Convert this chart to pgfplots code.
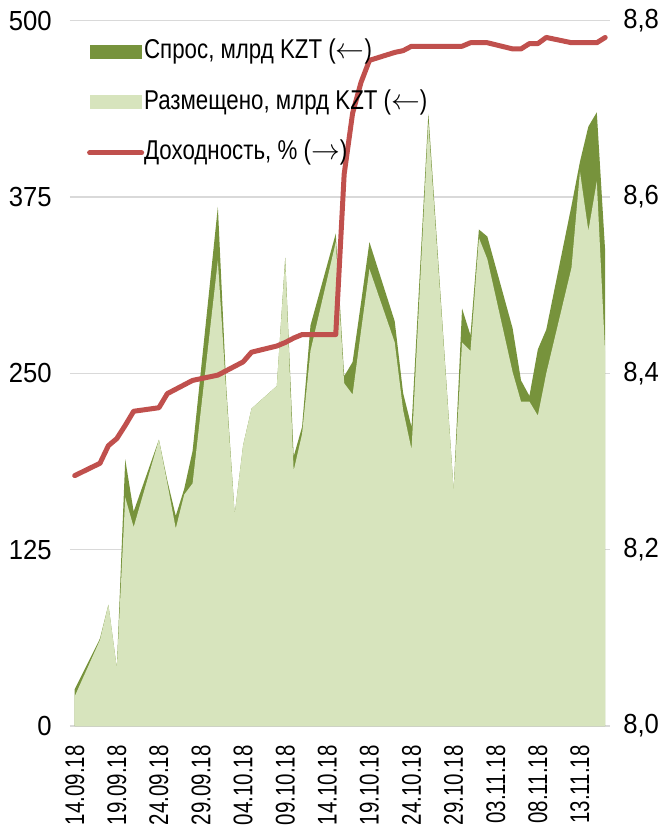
\documentclass[border=0pt]{standalone}
\usepackage{fontspec}
\setmainfont{Liberation Sans}[FakeStretch=0.82]
\newfontfamily\rotfont{Liberation Sans}[FakeStretch=0.76]
\newfontfamily\tickfont{Liberation Sans}[FakeStretch=0.93]
\usepackage{pgfplots}
\pgfplotsset{compat=1.18}
\definecolor{demand}{HTML}{77933C}
\definecolor{placed}{HTML}{D7E4BD}
\definecolor{yieldc}{HTML}{C0504D}
\definecolor{gridc}{HTML}{D9D9D9}
\pgfplotsset{
  mybox/.style={legend image code/.code={\fill[##1] (0pt,-3.5pt) rectangle (26pt,3.5pt);}},
  myline/.style={legend image code/.code={\draw[##1] (0pt,0pt) -- (26pt,0pt);}},
  common/.style={at={(0,0)}, anchor=south west, scale only axis, width=270pt, height=352.7pt,
    xmin=-0.56, xmax=63.56, major tick length=0pt, axis line style={draw=none}},
}
\newcommand{\lblfont}{\fontsize{13.6pt}{16pt}\selectfont}
\newcommand{\tklfont}{\tickfont\fontsize{13.8pt}{16pt}\selectfont}
\begin{document}
\begin{tikzpicture}
\useasboundingbox (-35pt,-51pt) rectangle (299.5pt,363.05pt);
\begin{axis}[common, ymin=0, ymax=500,
  ytick={0,125,250,375,500}, yticklabels={0,125,250,375,500},
  yticklabel style={font=\tklfont, inner sep=0pt, anchor=east}, yticklabel shift=9pt,
  xtick={0,5,10,15,20,25,30,35,40,45,50,55,60},
  xticklabels={14.09.18,19.09.18,24.09.18,29.09.18,04.10.18,09.10.18,14.10.18,19.10.18,24.10.18,29.10.18,03.11.18,08.11.18,13.11.18},
  xticklabel style={rotate=90, anchor=east, font=\rotfont\fontsize{13.5pt}{16pt}\selectfont, inner sep=0pt},
  xticklabel shift=9.5pt,
  ymajorgrids, grid style={gridc, line width=0.8pt},
]
\addplot[fill=demand, draw=none] coordinates {
(0,26) (3,62) (4,86) (5,41) (6,189) (7,152) (10,203) (11,174) (12,149) (13,168) (14,195)
(17,368) (18,240) (19,150) (20,199) (21,225) (24,241) (25,332) (26,191) (27,212) (28,284)
(31,349) (32,248) (33,258) (34,300) (35,343) (38,287) (39,236) (40,212) (41,323) (42,434)
(45,167) (46,296) (47,277) (48,352) (49,347) (52,282) (53,245) (54,234) (55,267) (56,281)
(59,369) (60,400) (61,425) (62,435) (63,336)
} \closedcycle;
\addplot[fill=placed, draw=none] coordinates {
(0,21) (3,61) (4,86) (5,41) (6,162) (7,141) (10,203) (11,172) (12,140) (13,164) (14,172)
(17,330) (18,236) (19,150) (20,199) (21,225) (24,241) (25,331) (26,181) (27,207) (28,266)
(31,343) (32,243) (33,235) (34,280) (35,324) (38,272) (39,224) (40,196) (41,312) (42,428)
(45,167) (46,272) (47,266) (48,346) (49,331) (52,251) (53,230) (54,230) (55,220) (56,250)
(59,325) (60,393) (61,351) (62,386) (63,263)
} \closedcycle;
\end{axis}
\begin{axis}[common, ymin=8, ymax=8.8, hide x axis, axis y line*=right,
  ytick={8,8.2,8.4,8.6,8.8}, yticklabels={{8,0},{8,2},{8,4},{8,6},{8,8}},
  yticklabel style={font=\tklfont, inner sep=0pt, anchor=west}, yticklabel shift=6.5pt,
  legend style={at={(0.031,0.975)}, anchor=north west, draw=none, fill=none, inner sep=0pt,
    row sep=12.3pt, font=\lblfont, nodes={inner sep=0pt, text height=10pt, text depth=3pt},
    /tikz/every even column/.append style={column sep=3pt}},
  legend cell align=left,
]
\addlegendimage{mybox, fill=demand, draw=none}
\addlegendentry{Спрос, млрд KZT ($\leftarrow$)}
\addlegendimage{mybox, fill=placed, draw=none}
\addlegendentry{Размещено, млрд KZT ($\leftarrow$)}
\addplot[myline, yieldc, line width=2.5pt, line join=round, line cap=round] coordinates {
(0,8.284) (3,8.298) (4,8.318) (5,8.326) (6,8.341) (7,8.357) (10,8.361) (11,8.377) (12,8.382)
(13,8.387) (14,8.392) (17,8.398) (18,8.403) (19,8.408) (20,8.413) (21,8.424) (24,8.431)
(25,8.435) (26,8.440) (27,8.444) (28,8.444) (31,8.444) (32,8.626) (33,8.695) (34,8.730)
(35,8.755) (38,8.764) (39,8.766) (40,8.771) (41,8.771) (42,8.771) (45,8.771) (46,8.771)
(47,8.775) (48,8.775) (49,8.775) (52,8.768) (53,8.768) (54,8.774) (55,8.774) (56,8.781)
(59,8.775) (60,8.775) (61,8.775) (62,8.775) (63,8.781)
};
\addlegendentry{Доходность, \% ($\rightarrow$)}
\end{axis}
\end{tikzpicture}
\end{document}
